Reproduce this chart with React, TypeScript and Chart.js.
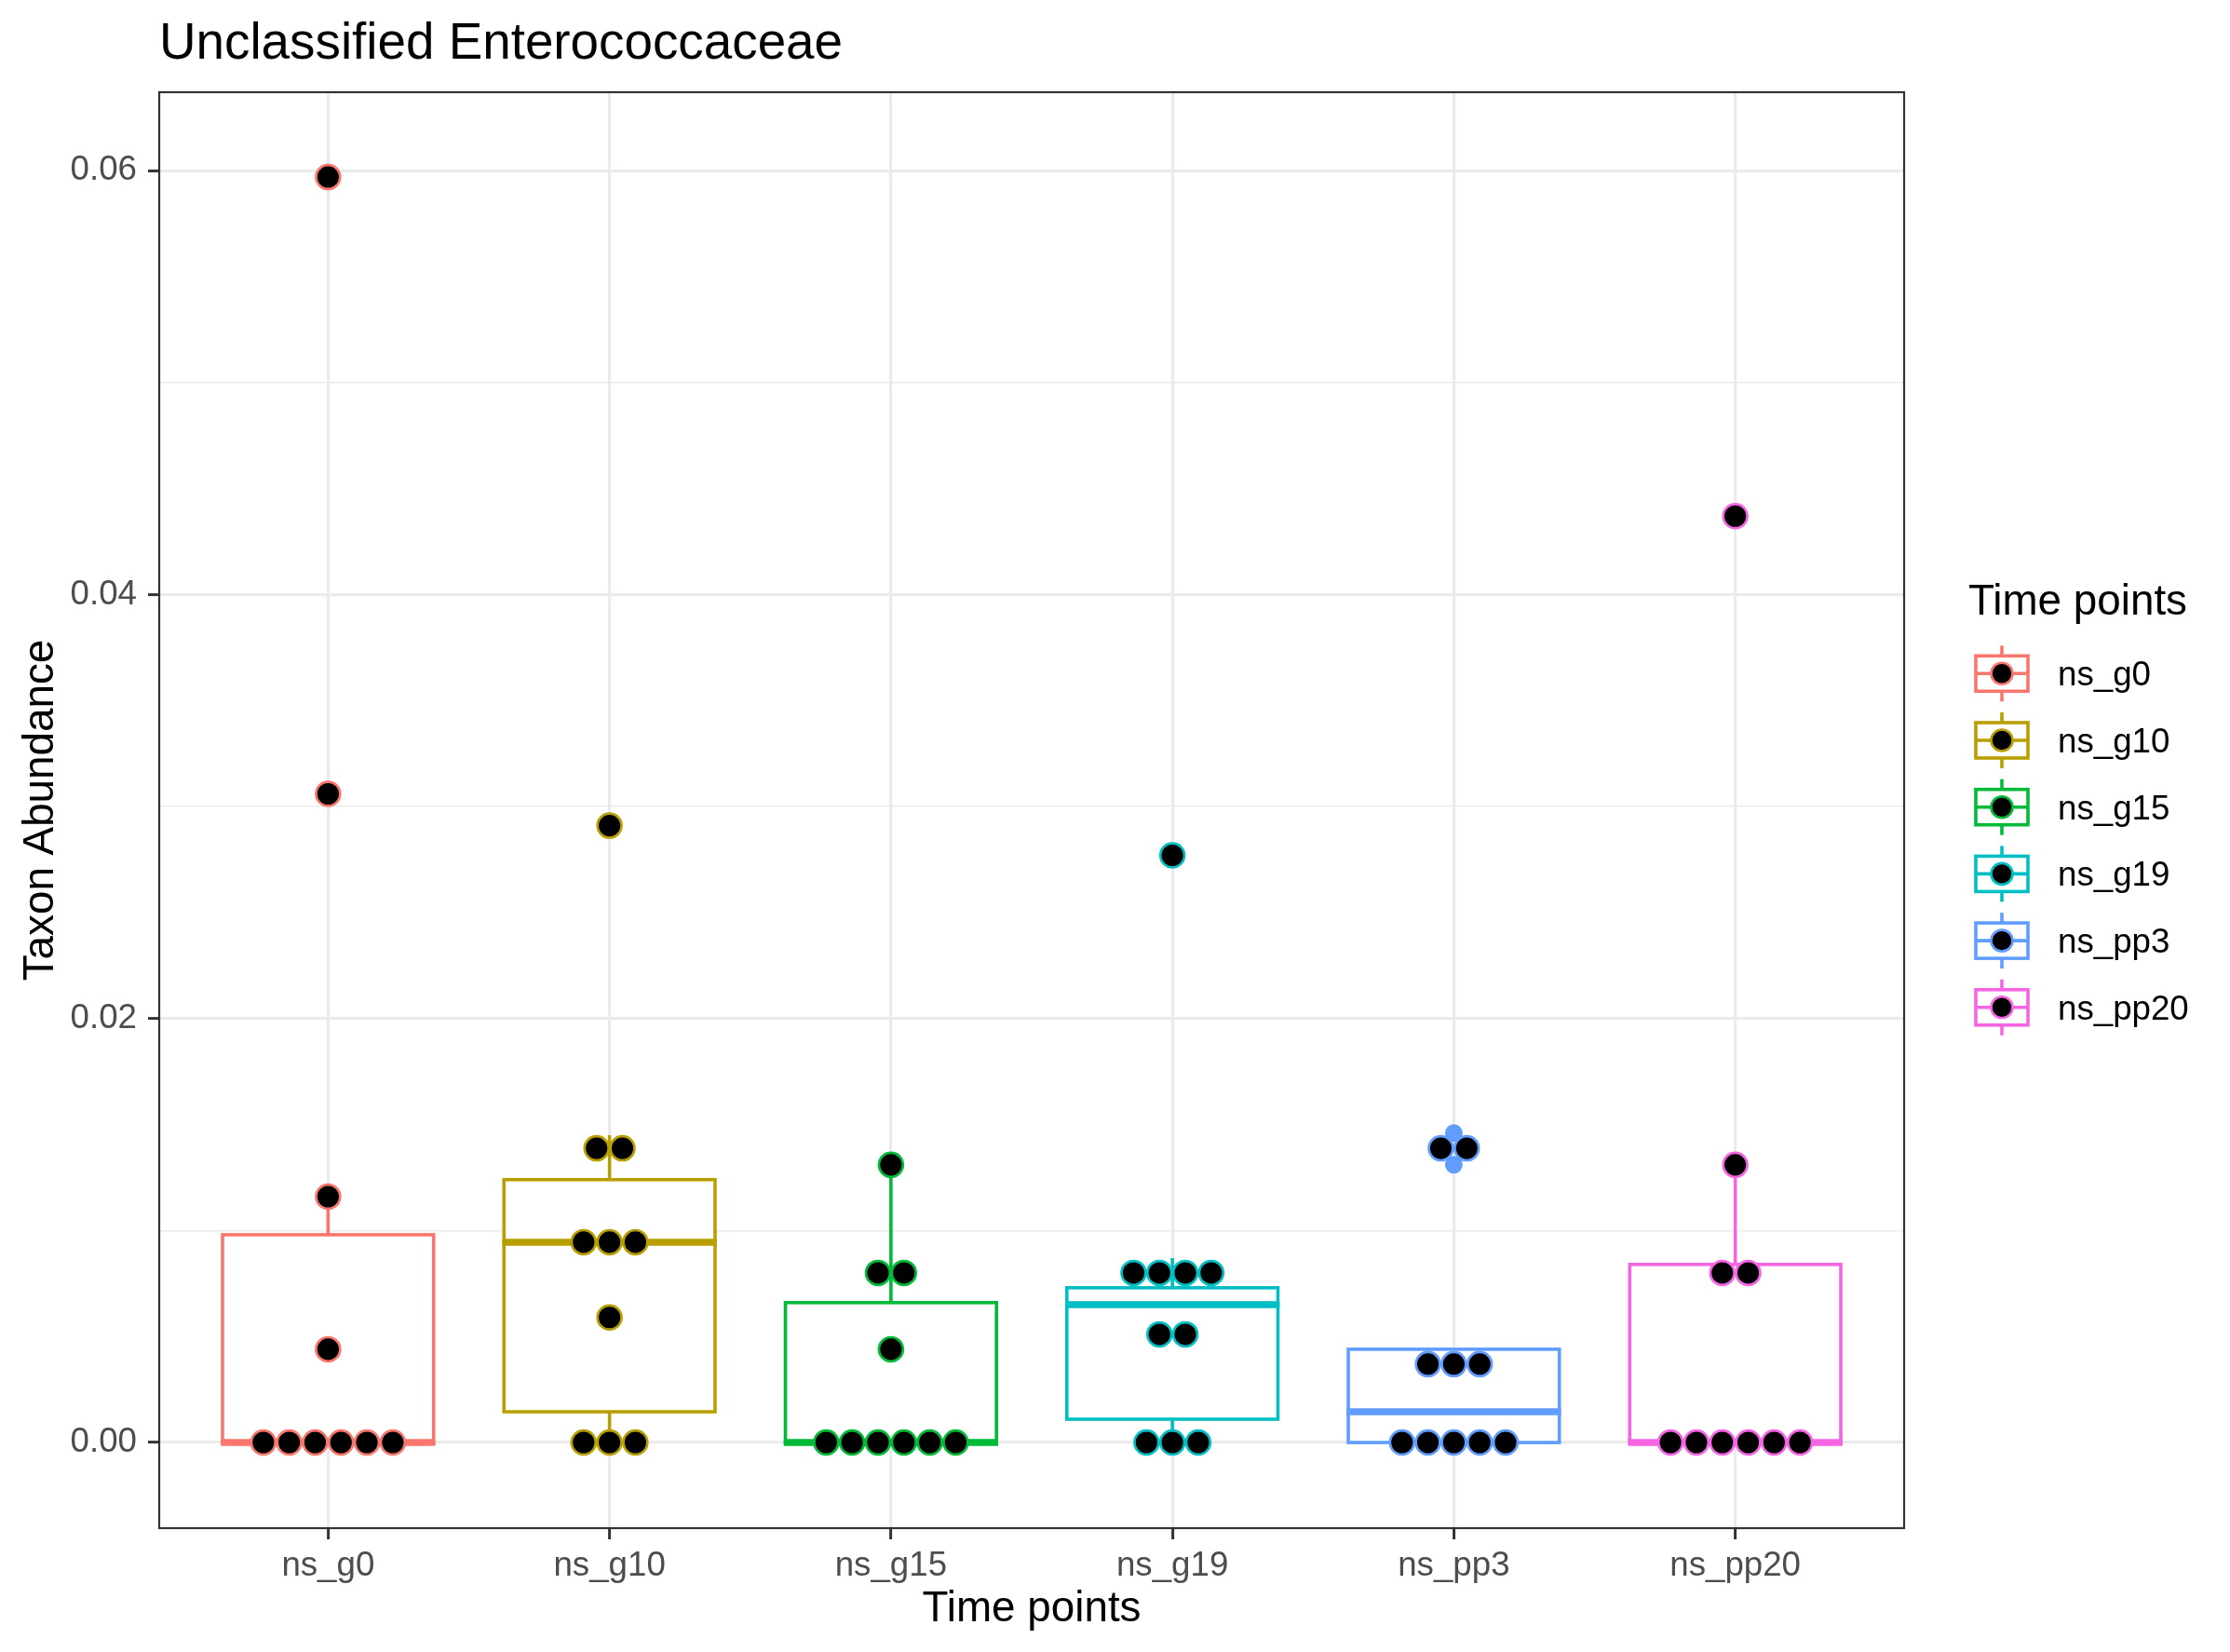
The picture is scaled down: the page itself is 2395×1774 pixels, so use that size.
import React, { useEffect, useRef } from "react";
import { Chart, registerables } from "chart.js";

Chart.register(...registerables);

// ---------- data ----------
const TITLE = "Unclassified Enterococcaceae";
const X_TITLE = "Time points";
const Y_TITLE = "Taxon Abundance";
const LEGEND_TITLE = "Time points";

const CATEGORIES = ["ns_g0", "ns_g10", "ns_g15", "ns_g19", "ns_pp3", "ns_pp20"];
const COLORS = ["#F8766D", "#B79F00", "#00BA38", "#00BFC4", "#619CFF", "#F564E3"];

const Y_TICKS = [0, 0.01, 0.02, 0.03, 0.04, 0.05, 0.06];
const Y_LABELED = [0, 0.02, 0.04, 0.06];
const Y_MIN = -0.00404;
const Y_MAX = 0.0637;

// dot-plot values (binned positions)
const DOTS_G0 = [0, 0, 0, 0, 0, 0, 0.0044, 0.0116, 0.0306, 0.0597];
const DOTS_G10 = [0, 0, 0, 0.0059, 0.00945, 0.00945, 0.00945, 0.01388, 0.01388, 0.0291];
const DOTS_G15 = [0, 0, 0, 0, 0, 0, 0.0044, 0.0080, 0.0080, 0.0131];
const DOTS_G19 = [0, 0, 0, 0.0051, 0.0051, 0.0080, 0.0080, 0.0080, 0.0080, 0.0277];
const DOTS_PP3 = [0, 0, 0, 0, 0, 0.0037, 0.0037, 0.0037, 0.01388, 0.01388];
const DOTS_PP20 = [0, 0, 0, 0, 0, 0, 0.0080, 0.0080, 0.0131, 0.0437];
const DOTS = [DOTS_G0, DOTS_G10, DOTS_G15, DOTS_G19, DOTS_PP3, DOTS_PP20];

// box-plot statistics
const WHISKER_LOW = [0, 0, 0, 0, 0, 0];
const Q1 = [0, 0.00145, 0, 0.0011, 0, 0];
const MEDIAN = [0, 0.00945, 0, 0.0065, 0.00145, 0];
const Q3 = [0.0098, 0.0124, 0.0066, 0.0073, 0.0044, 0.0084];
const WHISKER_HIGH = [0.0116, 0.0145, 0.0131, 0.0087, 0.0044, 0.0131];

const OUTLIERS_G0 = [0.0306, 0.0597];
const OUTLIERS_G10 = [0.0291];
const OUTLIERS_G15: number[] = [];
const OUTLIERS_G19 = [0.0277];
const OUTLIERS_PP3 = [0.0131, 0.0146];
const OUTLIERS_PP20 = [0.0437];
const OUTLIERS = [OUTLIERS_G0, OUTLIERS_G10, OUTLIERS_G15, OUTLIERS_G19, OUTLIERS_PP3, OUTLIERS_PP20];

// ---------- style ----------
const FONT = "'Liberation Sans', Arial, Helvetica, sans-serif";
const W = 2395;
const H = 1774;
const BOX_WIDTH = 0.75;
const DOT_STEP = 0.092; // x-units between stacked dots
const DOT_R = 12.9;
const DOT_BW = 2.7;

function stackDots(values: number[], gi: number) {
  const counts = new Map<number, number>();
  values.forEach((v) => counts.set(v, (counts.get(v) || 0) + 1));
  const seen = new Map<number, number>();
  return values.map((v) => {
    const n = counts.get(v) || 1;
    const k = seen.get(v) || 0;
    seen.set(v, k + 1);
    return { x: gi + (k - (n - 1) / 2) * DOT_STEP, y: v };
  });
}

const boxPlugin = {
  id: "ggBoxes",
  beforeDatasetsDraw(chart: any) {
    const { ctx } = chart;
    const x = chart.scales.x;
    const y = chart.scales.y;
    ctx.save();
    CATEGORIES.forEach((_, i) => {
      const cx = x.getPixelForValue(i);
      const hw = x.getPixelForValue(i + BOX_WIDTH / 2) - cx;
      ctx.strokeStyle = COLORS[i];
      ctx.lineCap = "butt";
      ctx.lineWidth = 3.6;
      ctx.beginPath();
      ctx.moveTo(cx, y.getPixelForValue(Q3[i]));
      ctx.lineTo(cx, y.getPixelForValue(WHISKER_HIGH[i]));
      ctx.moveTo(cx, y.getPixelForValue(Q1[i]));
      ctx.lineTo(cx, y.getPixelForValue(WHISKER_LOW[i]));
      ctx.stroke();
      const top = y.getPixelForValue(Q3[i]);
      const bot = y.getPixelForValue(Q1[i]);
      ctx.fillStyle = "#FFFFFF";
      ctx.fillRect(cx - hw, top, 2 * hw, bot - top);
      ctx.lineJoin = "miter";
      ctx.strokeRect(cx - hw, top, 2 * hw, bot - top);
      const my = y.getPixelForValue(MEDIAN[i]);
      ctx.lineWidth = 7.5;
      ctx.beginPath();
      ctx.moveTo(cx - hw - 1.8, my);
      ctx.lineTo(cx + hw + 1.8, my);
      ctx.stroke();
    });
    ctx.restore();
  },
};

const decorPlugin = {
  id: "ggDecor",
  afterDatasetsDraw(chart: any) {
    const { ctx, chartArea } = chart;
    ctx.save();
    ctx.strokeStyle = "#333333";
    ctx.lineWidth = 2.2;
    ctx.strokeRect(chartArea.left, chartArea.top, chartArea.right - chartArea.left, chartArea.bottom - chartArea.top);
    ctx.restore();
  },
  afterDraw(chart: any) {
    const { ctx, chartArea } = chart;
    ctx.save();
    ctx.fillStyle = "#000000";
    // main title
    ctx.font = `54.8px ${FONT}`;
    ctx.textAlign = "left";
    ctx.textBaseline = "alphabetic";
    ctx.fillText(TITLE, chartArea.left, 63);
    // x title
    ctx.font = `45.8px ${FONT}`;
    ctx.textAlign = "center";
    ctx.fillText(X_TITLE, (chartArea.left + chartArea.right) / 2, 1741);
    // y title
    ctx.save();
    ctx.translate(57, (chartArea.top + chartArea.bottom) / 2);
    ctx.rotate(-Math.PI / 2);
    ctx.fillText(Y_TITLE, 0, 0);
    ctx.restore();
    // legend
    ctx.textAlign = "left";
    ctx.font = `45.8px ${FONT}`;
    ctx.fillText(LEGEND_TITLE, 2114, 660);
    CATEGORIES.forEach((cat, k) => {
      const cy = 723.3 + k * 71.7;
      const cx = 2150;
      const col = COLORS[k];
      ctx.strokeStyle = col;
      ctx.lineWidth = 3.6;
      ctx.beginPath();
      ctx.moveTo(cx, cy - 30);
      ctx.lineTo(cx, cy + 30);
      ctx.stroke();
      ctx.fillStyle = "#FFFFFF";
      ctx.fillRect(2122, cy - 19, 56, 38);
      ctx.strokeRect(2122, cy - 19, 56, 38);
      ctx.beginPath();
      ctx.moveTo(2122, cy);
      ctx.lineTo(2178, cy);
      ctx.stroke();
      ctx.beginPath();
      ctx.arc(cx, cy, 11.5, 0, Math.PI * 2);
      ctx.fillStyle = "#000000";
      ctx.fill();
      ctx.lineWidth = 2.6;
      ctx.stroke();
      ctx.fillStyle = "#000000";
      ctx.font = `36.7px ${FONT}`;
      ctx.fillText(cat, 2210, cy + 13);
    });
    ctx.restore();
  },
};

export default function App() {
  const ref = useRef<HTMLCanvasElement | null>(null);
  useEffect(() => {
    document.body.style.margin = "0";
    const canvas = ref.current;
    if (!canvas) return;

    const outlierSets = OUTLIERS.map((vals, i) => ({
      type: "scatter" as const,
      label: CATEGORIES[i] + " outliers",
      data: vals.map((v) => ({ x: i, y: v })),
      pointRadius: 9.5,
      pointBorderWidth: 0,
      pointBackgroundColor: COLORS[i],
      pointBorderColor: COLORS[i],
      showLine: false,
      order: 2,
    }));
    const dotSets = DOTS.map((vals, i) => ({
      type: "scatter" as const,
      label: CATEGORIES[i],
      data: stackDots(vals, i),
      pointRadius: DOT_R,
      pointBorderWidth: DOT_BW,
      pointBackgroundColor: "#000000",
      pointBorderColor: COLORS[i],
      showLine: false,
      order: 1,
    }));

    const chart = new Chart(canvas, {
      type: "scatter",
      data: { datasets: [...dotSets, ...outlierSets] as any },
      options: {
        responsive: false,
        animation: false,
        devicePixelRatio: 1,
        layout: { padding: { top: 99, right: W - 2045, left: 0, bottom: 0 } },
        plugins: {
          legend: { display: false },
          title: { display: false },
          tooltip: { enabled: false },
        },
        scales: {
          x: {
            type: "linear",
            min: -0.6,
            max: CATEGORIES.length - 0.4,
            afterBuildTicks: (scale: any) => {
              scale.ticks = CATEGORIES.map((_, i) => ({ value: i }));
            },
            afterFit: (scale: any) => {
              scale.height = H - 1641;
            },
            border: { display: false },
            grid: {
              color: "#EBEBEB",
              lineWidth: 3.2,
              tickColor: "#333333",
              tickWidth: 3,
              tickLength: 12,
            },
            ticks: {
              autoSkip: false,
              maxRotation: 0,
              padding: 7,
              color: "#4D4D4D",
              font: { family: FONT, size: 36.7 },
              callback: (v: any) => CATEGORIES[Math.round(Number(v))] ?? "",
            },
          },
          y: {
            type: "linear",
            min: Y_MIN,
            max: Y_MAX,
            afterBuildTicks: (scale: any) => {
              scale.ticks = Y_TICKS.map((v) => ({ value: v }));
            },
            afterFit: (scale: any) => {
              scale.width = 171;
            },
            border: { display: false },
            grid: {
              color: "#EBEBEB",
              lineWidth: (c: any) => (Y_LABELED.some((m) => Math.abs(m - c.tick?.value) < 1e-9) ? 3.2 : 1.6),
              tickColor: (c: any) =>
                Y_LABELED.some((m) => Math.abs(m - c.tick?.value) < 1e-9) ? "#333333" : "rgba(0,0,0,0)",
              tickWidth: 3,
              tickLength: 12,
            },
            ticks: {
              padding: 12,
              color: "#4D4D4D",
              font: { family: FONT, size: 36.7 },
              callback: (v: any) => {
                const n = Number(v);
                return Y_LABELED.some((m) => Math.abs(m - n) < 1e-9) ? n.toFixed(2) : "";
              },
            },
          },
        },
      },
      plugins: [boxPlugin, decorPlugin],
    });
    return () => chart.destroy();
  }, []);

  return (
    <div style={{ position: "absolute", left: 0, top: 0, width: W, height: H, background: "#FFFFFF" }}>
      <canvas ref={ref} width={W} height={H} style={{ width: W, height: H, display: "block" }} />
    </div>
  );
}
